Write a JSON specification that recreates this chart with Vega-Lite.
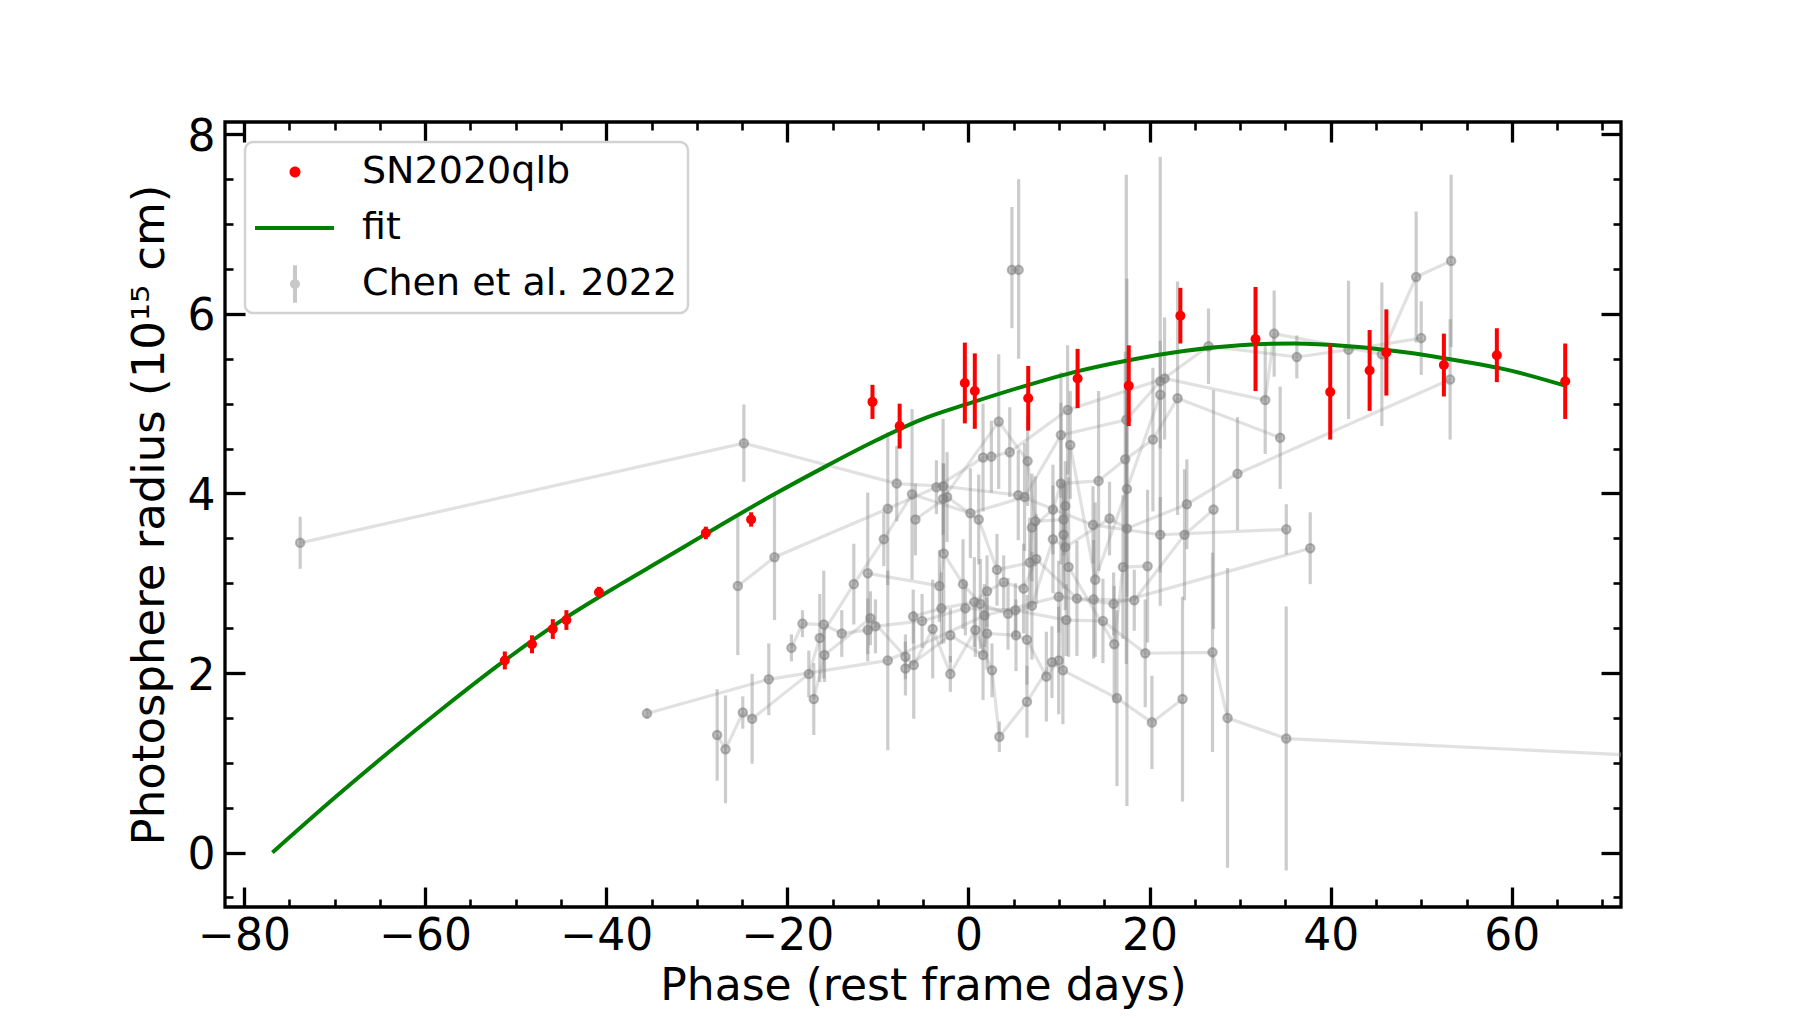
{
  "$schema": "https://vega.github.io/schema/vega-lite/v6.json",
  "width": 1396,
  "height": 785,
  "autosize": {"type": "none"},
  "padding": {"left": 225, "top": 122, "right": 179, "bottom": 111},
  "background": "white",
  "config": {
    "view": {"stroke": "black", "strokeWidth": 3.3},
    "font": "DejaVu Sans",
    "axis": {"grid": false, "domain": false, "labelColor": "black", "titleColor": "black", "tickColor": "black", "labelFont": "DejaVu Sans", "titleFont": "DejaVu Sans", "titleFontWeight": "normal"},
    "legend": {"strokeWidth": 2.5}
  },
  "datasets": {
    "red": [
      {"series": "SN2020qlb", "x": -51.2, "y": 2.14, "lo": 2.04, "hi": 2.24},
      {"series": "SN2020qlb", "x": -48.2, "y": 2.32, "lo": 2.22, "hi": 2.42},
      {"series": "SN2020qlb", "x": -45.9, "y": 2.49, "lo": 2.38, "hi": 2.60},
      {"series": "SN2020qlb", "x": -44.4, "y": 2.59, "lo": 2.48, "hi": 2.70},
      {"series": "SN2020qlb", "x": -40.8, "y": 2.90, "lo": 2.84, "hi": 2.96},
      {"series": "SN2020qlb", "x": -29.0, "y": 3.56, "lo": 3.49, "hi": 3.63},
      {"series": "SN2020qlb", "x": -24.0, "y": 3.71, "lo": 3.63, "hi": 3.79},
      {"series": "SN2020qlb", "x": -10.6, "y": 5.02, "lo": 4.83, "hi": 5.21},
      {"series": "SN2020qlb", "x": -7.6, "y": 4.75, "lo": 4.50, "hi": 5.00},
      {"series": "SN2020qlb", "x": -0.4, "y": 5.23, "lo": 4.78, "hi": 5.68},
      {"series": "SN2020qlb", "x": 0.7, "y": 5.14, "lo": 4.72, "hi": 5.56},
      {"series": "SN2020qlb", "x": 6.6, "y": 5.06, "lo": 4.70, "hi": 5.42},
      {"series": "SN2020qlb", "x": 12.05, "y": 5.28, "lo": 4.95, "hi": 5.61},
      {"series": "SN2020qlb", "x": 17.7, "y": 5.20, "lo": 4.75, "hi": 5.65},
      {"series": "SN2020qlb", "x": 23.4, "y": 5.98, "lo": 5.67, "hi": 6.29},
      {"series": "SN2020qlb", "x": 31.7, "y": 5.72, "lo": 5.14, "hi": 6.30},
      {"series": "SN2020qlb", "x": 39.95, "y": 5.13, "lo": 4.60, "hi": 5.66},
      {"series": "SN2020qlb", "x": 44.3, "y": 5.37, "lo": 4.92, "hi": 5.82},
      {"series": "SN2020qlb", "x": 46.15, "y": 5.57, "lo": 5.09, "hi": 6.05},
      {"series": "SN2020qlb", "x": 52.5, "y": 5.43, "lo": 5.08, "hi": 5.78},
      {"series": "SN2020qlb", "x": 58.35, "y": 5.54, "lo": 5.24, "hi": 5.84},
      {"series": "SN2020qlb", "x": 65.9, "y": 5.25, "lo": 4.83, "hi": 5.67}
    ],
    "fit": [
      {"x": -76.87, "y": 0}, {"x": -70, "y": 0.61}, {"x": -64, "y": 1.12}, {"x": -58, "y": 1.61},
      {"x": -51.2, "y": 2.14}, {"x": -45, "y": 2.58}, {"x": -38.4, "y": 2.99}, {"x": -33.5, "y": 3.28},
      {"x": -29, "y": 3.55}, {"x": -22, "y": 3.96}, {"x": -15.6, "y": 4.31}, {"x": -10, "y": 4.60},
      {"x": -5, "y": 4.83}, {"x": 0, "y": 5.0}, {"x": 6, "y": 5.19}, {"x": 12, "y": 5.36},
      {"x": 18, "y": 5.49}, {"x": 24, "y": 5.59}, {"x": 30, "y": 5.65}, {"x": 36, "y": 5.67},
      {"x": 42, "y": 5.64}, {"x": 48, "y": 5.575}, {"x": 54, "y": 5.48}, {"x": 60, "y": 5.365},
      {"x": 65.9, "y": 5.20}
    ],
    "chen": [
      {"sn": "S1", "x": -73.8, "y": 3.45, "lo": 3.16, "hi": 3.74},
      {"sn": "S1", "x": -24.8, "y": 4.56, "lo": 4.13, "hi": 4.99},
      {"sn": "S1", "x": -7.92, "y": 4.11, "lo": 3.69, "hi": 4.53},
      {"sn": "S1", "x": -2.8, "y": 4.08, "lo": 3.33, "hi": 4.83},
      {"sn": "S1", "x": 5.5, "y": 3.98, "lo": 3.48, "hi": 4.48},
      {"sn": "S1", "x": 13.75, "y": 3.65, "lo": 3.22, "hi": 4.08},
      {"sn": "S1", "x": 21.18, "y": 3.54, "lo": 3.12, "hi": 3.96},
      {"sn": "S1", "x": 35.1, "y": 3.6, "lo": 3.32, "hi": 3.88},
      {"sn": "S2", "x": -35.5, "y": 1.55, "lo": 1.49, "hi": 1.61},
      {"sn": "S2", "x": -22.05, "y": 1.93, "lo": 1.53, "hi": 2.33},
      {"sn": "S2", "x": -8.91, "y": 2.14, "lo": 1.14, "hi": 3.14},
      {"sn": "S2", "x": 1.76, "y": 2.64, "lo": 2.29, "hi": 2.99},
      {"sn": "S2", "x": 9.96, "y": 2.85, "lo": 2.45, "hi": 3.25},
      {"sn": "S2", "x": 16.03, "y": 2.77, "lo": 2.42, "hi": 3.12},
      {"sn": "S2", "x": 37.74, "y": 3.39, "lo": 2.99, "hi": 3.79},
      {"sn": "S3", "x": -27.75, "y": 1.31, "lo": 0.80, "hi": 1.82},
      {"sn": "S3", "x": -26.83, "y": 1.15, "lo": 0.55, "hi": 1.75},
      {"sn": "S3", "x": -24.92, "y": 1.56, "lo": 1.38, "hi": 1.74},
      {"sn": "S3", "x": -23.89, "y": 1.49, "lo": 0.99, "hi": 1.99},
      {"sn": "S3", "x": -17.63, "y": 1.99, "lo": 1.73, "hi": 2.25},
      {"sn": "S3", "x": -16.42, "y": 2.39, "lo": 1.90, "hi": 2.88},
      {"sn": "S3", "x": -12.66, "y": 2.99, "lo": 2.54, "hi": 3.44},
      {"sn": "S3", "x": -9.35, "y": 3.49, "lo": 3.19, "hi": 3.79},
      {"sn": "S3", "x": -6.23, "y": 3.99, "lo": 3.04, "hi": 4.94},
      {"sn": "S3", "x": 0.21, "y": 3.78, "lo": 3.28, "hi": 4.28},
      {"sn": "S3", "x": 6.2, "y": 3.96, "lo": 3.36, "hi": 4.56},
      {"sn": "S3", "x": 10.21, "y": 4.65, "lo": 3.95, "hi": 5.35},
      {"sn": "S3", "x": 17.43, "y": 4.82, "lo": 2.10, "hi": 7.55},
      {"sn": "S3", "x": 21.18, "y": 5.25, "lo": 2.75, "hi": 7.75},
      {"sn": "S3", "x": 26.51, "y": 5.64, "lo": 5.22, "hi": 6.06},
      {"sn": "S3", "x": 36.26, "y": 5.52, "lo": 5.28, "hi": 5.76},
      {"sn": "S3", "x": 41.97, "y": 5.60, "lo": 4.83, "hi": 6.37},
      {"sn": "S3", "x": 50.0, "y": 5.73, "lo": 5.32, "hi": 6.14},
      {"sn": "S4", "x": -25.47, "y": 2.97, "lo": 2.20, "hi": 3.74},
      {"sn": "S4", "x": -21.42, "y": 3.29, "lo": 2.59, "hi": 3.99},
      {"sn": "S4", "x": -8.91, "y": 3.83, "lo": 2.98, "hi": 4.68},
      {"sn": "S4", "x": -3.54, "y": 4.07, "lo": 3.77, "hi": 4.37},
      {"sn": "S4", "x": 1.61, "y": 4.40, "lo": 3.80, "hi": 5.00},
      {"sn": "S4", "x": 2.53, "y": 4.41, "lo": 4.01, "hi": 4.81},
      {"sn": "S4", "x": 4.56, "y": 4.46, "lo": 3.96, "hi": 4.96},
      {"sn": "S4", "x": 10.95, "y": 4.93, "lo": 4.21, "hi": 5.65},
      {"sn": "S4", "x": 21.66, "y": 5.28, "lo": 4.60, "hi": 5.96},
      {"sn": "S4", "x": 32.77, "y": 5.04, "lo": 4.44, "hi": 5.64},
      {"sn": "S4", "x": 33.76, "y": 5.78, "lo": 5.30, "hi": 6.26},
      {"sn": "S4", "x": 45.65, "y": 5.55, "lo": 4.75, "hi": 6.35},
      {"sn": "S4", "x": 49.44, "y": 6.41, "lo": 5.68, "hi": 7.14},
      {"sn": "S4", "x": 53.3, "y": 6.59, "lo": 5.63, "hi": 7.55},
      {"sn": "S5", "x": -19.55, "y": 2.28, "lo": 2.13, "hi": 2.43},
      {"sn": "S5", "x": -18.33, "y": 2.55, "lo": 2.40, "hi": 2.70},
      {"sn": "S5", "x": -15.98, "y": 2.54, "lo": 1.94, "hi": 3.14},
      {"sn": "S5", "x": -13.99, "y": 2.44, "lo": 2.18, "hi": 2.70},
      {"sn": "S5", "x": -11.12, "y": 2.48, "lo": 2.13, "hi": 2.83},
      {"sn": "S5", "x": -10.27, "y": 2.52, "lo": 2.22, "hi": 2.82},
      {"sn": "S5", "x": -5.12, "y": 2.58, "lo": 2.28, "hi": 2.88},
      {"sn": "S5", "x": -0.34, "y": 2.72, "lo": 2.42, "hi": 3.02},
      {"sn": "S5", "x": 5.18, "y": 2.70, "lo": 2.40, "hi": 3.00},
      {"sn": "S5", "x": 10.8, "y": 2.59, "lo": 2.19, "hi": 2.99},
      {"sn": "S5", "x": 14.85, "y": 2.58, "lo": 2.11, "hi": 3.05},
      {"sn": "S5", "x": 19.52, "y": 2.22, "lo": 1.62, "hi": 2.82},
      {"sn": "S5", "x": 26.95, "y": 2.23, "lo": 1.12, "hi": 3.34},
      {"sn": "S5", "x": 28.61, "y": 1.50, "lo": -0.17, "hi": 3.17},
      {"sn": "S5", "x": 35.09, "y": 1.27, "lo": -0.20, "hi": 2.74},
      {"sn": "S5", "x": 72.5, "y": 1.09, "lo": 1.00, "hi": 1.18},
      {"sn": "S6", "x": -17.08, "y": 1.71, "lo": 1.31, "hi": 2.11},
      {"sn": "S6", "x": -15.9, "y": 2.20, "lo": 1.90, "hi": 2.50},
      {"sn": "S6", "x": -10.83, "y": 2.61, "lo": 2.31, "hi": 2.91},
      {"sn": "S6", "x": -6.96, "y": 2.18, "lo": 1.93, "hi": 2.43},
      {"sn": "S6", "x": -6.04, "y": 2.09, "lo": 1.49, "hi": 2.69},
      {"sn": "S6", "x": -3.95, "y": 2.49, "lo": 1.94, "hi": 3.04},
      {"sn": "S6", "x": -2.0, "y": 1.99, "lo": 1.79, "hi": 2.19},
      {"sn": "S6", "x": 0.76, "y": 2.48, "lo": 2.18, "hi": 2.78},
      {"sn": "S6", "x": 2.6, "y": 2.03, "lo": 1.73, "hi": 2.33},
      {"sn": "S6", "x": 3.41, "y": 1.29, "lo": 1.12, "hi": 1.46},
      {"sn": "S6", "x": 6.46, "y": 1.68, "lo": 1.28, "hi": 2.08},
      {"sn": "S6", "x": 9.22, "y": 2.12, "lo": 1.72, "hi": 2.52},
      {"sn": "S6", "x": 10.43, "y": 2.03, "lo": 1.43, "hi": 2.63},
      {"sn": "S6", "x": 16.4, "y": 1.72, "lo": 0.74, "hi": 2.70},
      {"sn": "S6", "x": 20.26, "y": 1.45, "lo": 0.93, "hi": 1.97},
      {"sn": "S6", "x": 23.64, "y": 1.71, "lo": 0.57, "hi": 2.85},
      {"sn": "S7", "x": -6.1, "y": 2.63, "lo": 2.33, "hi": 2.93},
      {"sn": "S7", "x": -2.99, "y": 2.72, "lo": 2.32, "hi": 3.12},
      {"sn": "S7", "x": 0.65, "y": 2.79, "lo": 2.29, "hi": 3.29},
      {"sn": "S7", "x": 2.05, "y": 2.91, "lo": 2.51, "hi": 3.31},
      {"sn": "S7", "x": 3.89, "y": 3.01, "lo": 2.71, "hi": 3.31},
      {"sn": "S7", "x": 6.09, "y": 2.94, "lo": 2.44, "hi": 3.44},
      {"sn": "S7", "x": 7.49, "y": 3.27, "lo": 2.77, "hi": 3.77},
      {"sn": "S7", "x": 11.98, "y": 2.83, "lo": 2.19, "hi": 3.47},
      {"sn": "S7", "x": 13.82, "y": 2.82, "lo": 2.16, "hi": 3.48},
      {"sn": "S7", "x": 18.31, "y": 2.81, "lo": 2.47, "hi": 3.15},
      {"sn": "S7", "x": 23.86, "y": 3.54, "lo": 2.81, "hi": 4.27},
      {"sn": "S7", "x": 27.06, "y": 3.82, "lo": 2.49, "hi": 5.15},
      {"sn": "S8", "x": -5.86, "y": 3.71, "lo": 3.31, "hi": 4.11},
      {"sn": "S8", "x": -2.36, "y": 3.96, "lo": 3.46, "hi": 4.46},
      {"sn": "S8", "x": 1.13, "y": 3.71, "lo": 3.21, "hi": 4.21},
      {"sn": "S8", "x": 3.15, "y": 3.15, "lo": 2.75, "hi": 3.55},
      {"sn": "S8", "x": 6.76, "y": 3.23, "lo": 2.73, "hi": 3.73},
      {"sn": "S8", "x": 7.01, "y": 3.62, "lo": 3.02, "hi": 4.22},
      {"sn": "S8", "x": 9.33, "y": 3.82, "lo": 3.32, "hi": 4.32},
      {"sn": "S8", "x": 10.21, "y": 4.11, "lo": 3.21, "hi": 5.01},
      {"sn": "S8", "x": 14.37, "y": 4.14, "lo": 3.14, "hi": 5.14},
      {"sn": "S8", "x": 17.31, "y": 4.38, "lo": 3.18, "hi": 5.58},
      {"sn": "S8", "x": 20.37, "y": 4.60, "lo": 3.80, "hi": 5.40},
      {"sn": "S8", "x": 23.09, "y": 5.06, "lo": 3.76, "hi": 6.36},
      {"sn": "S8", "x": 34.42, "y": 4.62, "lo": 4.05, "hi": 5.19},
      {"sn": "S9", "x": 4.8, "y": 6.49, "lo": 5.84, "hi": 7.19},
      {"sn": "S9", "x": 5.54, "y": 6.49, "lo": 5.50, "hi": 7.50},
      {"sn": "S10", "x": -11.12, "y": 3.11, "lo": 2.21, "hi": 4.01},
      {"sn": "S10", "x": -3.21, "y": 2.97, "lo": 2.57, "hi": 3.37},
      {"sn": "S10", "x": -2.73, "y": 3.33, "lo": 2.33, "hi": 4.33},
      {"sn": "S10", "x": -0.6, "y": 2.99, "lo": 2.49, "hi": 3.49},
      {"sn": "S10", "x": 1.31, "y": 2.77, "lo": 2.27, "hi": 3.27},
      {"sn": "S10", "x": 4.37, "y": 2.66, "lo": 2.26, "hi": 3.06},
      {"sn": "S10", "x": 7.01, "y": 2.75, "lo": 2.15, "hi": 3.35},
      {"sn": "S10", "x": 9.33, "y": 3.49, "lo": 2.89, "hi": 4.09},
      {"sn": "S10", "x": 10.69, "y": 3.40, "lo": 2.70, "hi": 4.10},
      {"sn": "S10", "x": 15.58, "y": 3.72, "lo": 3.31, "hi": 4.13},
      {"sn": "S10", "x": 17.5, "y": 3.61, "lo": 0.52, "hi": 6.39},
      {"sn": "S10", "x": 24.12, "y": 3.88, "lo": 3.38, "hi": 4.38},
      {"sn": "S10", "x": 29.71, "y": 4.22, "lo": 3.59, "hi": 4.85},
      {"sn": "S10", "x": 53.19, "y": 5.27, "lo": 4.60, "hi": 5.94},
      {"sn": "S11", "x": -6.96, "y": 2.05, "lo": 1.75, "hi": 2.35},
      {"sn": "S11", "x": -2.0, "y": 2.42, "lo": 2.12, "hi": 2.72},
      {"sn": "S11", "x": 1.61, "y": 2.20, "lo": 1.70, "hi": 2.70},
      {"sn": "S11", "x": 2.05, "y": 2.44, "lo": 2.04, "hi": 2.84},
      {"sn": "S11", "x": 5.25, "y": 2.42, "lo": 2.02, "hi": 2.82},
      {"sn": "S11", "x": 6.46, "y": 2.37, "lo": 1.87, "hi": 2.87},
      {"sn": "S11", "x": 8.6, "y": 1.96, "lo": 1.46, "hi": 2.46},
      {"sn": "S11", "x": 9.96, "y": 2.14, "lo": 1.54, "hi": 2.74},
      {"sn": "S11", "x": 10.5, "y": 3.54, "lo": 2.94, "hi": 4.14},
      {"sn": "S11", "x": 11.06, "y": 3.18, "lo": 2.18, "hi": 4.18},
      {"sn": "S11", "x": 16.1, "y": 2.32, "lo": 1.67, "hi": 2.97},
      {"sn": "S11", "x": 17.06, "y": 3.18, "lo": 2.38, "hi": 3.98},
      {"sn": "S11", "x": 19.78, "y": 3.19, "lo": 2.34, "hi": 4.04},
      {"sn": "S12", "x": -2.8, "y": 3.94, "lo": 3.54, "hi": 4.34},
      {"sn": "S12", "x": 3.34, "y": 4.80, "lo": 4.05, "hi": 5.55},
      {"sn": "S12", "x": 6.53, "y": 4.36, "lo": 3.86, "hi": 4.86},
      {"sn": "S12", "x": 7.38, "y": 3.69, "lo": 3.19, "hi": 4.19},
      {"sn": "S12", "x": 10.5, "y": 3.71, "lo": 3.31, "hi": 4.11},
      {"sn": "S12", "x": 10.69, "y": 3.86, "lo": 3.36, "hi": 4.36},
      {"sn": "S12", "x": 11.24, "y": 4.54, "lo": 3.94, "hi": 5.14},
      {"sn": "S12", "x": 14.0, "y": 3.04, "lo": 2.18, "hi": 3.90},
      {"sn": "S12", "x": 17.5, "y": 4.05, "lo": 2.85, "hi": 5.25},
      {"sn": "S12", "x": 21.18, "y": 5.10, "lo": 4.50, "hi": 5.70}
    ]
  },
  "resolve": {"axis": {"x": "independent", "y": "independent"}},
  "layer": [
    {
      "data": {"name": "chen"},
      "mark": {"type": "line", "clip": true, "color": "#808080", "opacity": 0.24, "strokeWidth": 3.2},
      "encoding": {
        "x": {"field": "x", "type": "quantitative", "scale": {"domain": [-82.1, 72.06], "nice": false, "zero": false},
          "axis": {"orient": "bottom", "values": [-80, -60, -40, -20, 0, 20, 40, 60], "ticks": false, "labelFontSize": 44, "labelPadding": 7, "title": "Phase (rest frame days)", "titleFontSize": 44, "titlePadding": 6}},
        "y": {"field": "y", "type": "quantitative", "scale": {"domain": [-0.606, 8.137], "nice": false, "zero": false},
          "axis": {"orient": "left", "values": [0, 2, 4, 6, 8], "ticks": false, "labelFontSize": 44, "labelPadding": 10, "labelOffset": 3, "title": "Photosphere radius (10¹⁵ cm)", "titleFontSize": 45, "titlePadding": 15}},
        "detail": {"field": "sn"},
        "order": {"field": "x", "type": "quantitative"}
      }
    },
    {
      "data": {"name": "chen"},
      "mark": {"type": "rule", "clip": true, "color": "#808080", "opacity": 0.4, "strokeWidth": 3.2},
      "encoding": {
        "x": {"field": "x", "type": "quantitative",
          "axis": {"orient": "bottom", "values": [-80, -60, -40, -20, 0, 20, 40, 60], "tickSize": -20, "tickWidth": 3.3, "labels": false, "title": null}},
        "y": {"field": "lo", "type": "quantitative",
          "axis": {"orient": "left", "values": [0, 2, 4, 6, 8], "tickSize": -20, "tickWidth": 3.3, "labels": false, "title": null}},
        "y2": {"field": "hi"}
      }
    },
    {
      "data": {"name": "chen"},
      "mark": {"type": "point", "clip": true, "filled": true, "fill": "#808080", "fillOpacity": 0.45, "stroke": "#808080", "strokeOpacity": 0.55, "strokeWidth": 2.2, "size": 70},
      "encoding": {
        "x": {"field": "x", "type": "quantitative",
          "axis": {"orient": "bottom", "values": [-80, -75, -70, -65, -60, -55, -50, -45, -40, -35, -30, -25, -20, -15, -10, -5, 0, 5, 10, 15, 20, 25, 30, 35, 40, 45, 50, 55, 60, 65, 70], "tickSize": -8, "tickWidth": 2.6, "labels": false, "title": null}},
        "y": {"field": "y", "type": "quantitative",
          "axis": {"orient": "left", "values": [-0.5, 0, 0.5, 1, 1.5, 2, 2.5, 3, 3.5, 4, 4.5, 5, 5.5, 6, 6.5, 7, 7.5, 8], "tickSize": -8, "tickWidth": 2.6, "labels": false, "title": null}}
      }
    },
    {
      "data": {"name": "fit"},
      "mark": {"type": "line", "clip": true, "color": "#008000", "strokeWidth": 4, "interpolate": "monotone"},
      "encoding": {
        "x": {"field": "x", "type": "quantitative",
          "axis": {"orient": "top", "values": [-80, -60, -40, -20, 0, 20, 40, 60], "tickSize": -20, "tickWidth": 3.3, "labels": false, "title": null}},
        "y": {"field": "y", "type": "quantitative",
          "axis": {"orient": "right", "values": [0, 2, 4, 6, 8], "tickSize": -20, "tickWidth": 3.3, "labels": false, "title": null}}
      }
    },
    {
      "data": {"name": "red"},
      "mark": {"type": "rule", "clip": true, "color": "red", "strokeWidth": 4},
      "encoding": {
        "x": {"field": "x", "type": "quantitative",
          "axis": {"orient": "top", "values": [-80, -75, -70, -65, -60, -55, -50, -45, -40, -35, -30, -25, -20, -15, -10, -5, 0, 5, 10, 15, 20, 25, 30, 35, 40, 45, 50, 55, 60, 65, 70], "tickSize": -8, "tickWidth": 2.6, "labels": false, "title": null}},
        "y": {"field": "lo", "type": "quantitative",
          "axis": {"orient": "right", "values": [-0.5, 0, 0.5, 1, 1.5, 2, 2.5, 3, 3.5, 4, 4.5, 5, 5.5, 6, 6.5, 7, 7.5, 8], "tickSize": -8, "tickWidth": 2.6, "labels": false, "title": null}},
        "y2": {"field": "hi"}
      }
    },
    {
      "data": {"name": "red"},
      "mark": {"type": "point", "clip": true, "filled": true, "color": "#ff0000", "opacity": 1, "size": 100},
      "encoding": {
        "x": {"field": "x", "type": "quantitative", "axis": null},
        "y": {"field": "y", "type": "quantitative", "axis": null}
      }
    },
    {
      "data": {"name": "red"},
      "transform": [{"filter": "datum.x > 1000"}],
      "mark": {"type": "point", "clip": true, "filled": true, "opacity": 1, "size": 1600},
      "encoding": {
        "x": {"field": "x", "type": "quantitative", "axis": null},
        "y": {"field": "y", "type": "quantitative", "axis": null},
        "color": {"field": "series", "type": "nominal",
          "scale": {"domain": ["SN2020qlb", "fit", "Chen et al. 2022"], "range": ["#ff0000", "#008000", "#c8c8c8"]},
          "legend": {"title": null, "orient": "none", "legendX": 20, "legendY": 20, "labelFont": "DejaVu Sans", "labelFontSize": 38, "labelColor": "black", "labelLimit": 1000, "labelOffset": 67, "symbolSize": 1600, "symbolStrokeWidth": 0, "fillColor": "white", "strokeColor": "#d2d2d2", "cornerRadius": 8, "padding": 10, "rowPadding": 17}},
        "shape": {"field": "series", "type": "nominal",
          "scale": {"domain": ["SN2020qlb", "fit", "Chen et al. 2022"], "range": ["M1.275,0A0.275,0.275,0,1,1,0.725,0A0.275,0.275,0,1,1,1.275,0Z", "M-1,-0.1H2.95V0.1H-1Z", "M0.9,-0.94H1.1V0.94H0.9ZM1.25,0A0.25,0.25,0,1,1,0.75,0A0.25,0.25,0,1,1,1.25,0Z"]},
          "legend": {"title": null, "orient": "none", "legendX": 20, "legendY": 20, "labelFont": "DejaVu Sans", "labelFontSize": 38, "labelColor": "black", "labelLimit": 1000, "labelOffset": 67, "symbolSize": 1600, "symbolStrokeWidth": 0, "fillColor": "white", "strokeColor": "#d2d2d2", "cornerRadius": 8, "padding": 10, "rowPadding": 17}}
      }
    }
  ]
}
